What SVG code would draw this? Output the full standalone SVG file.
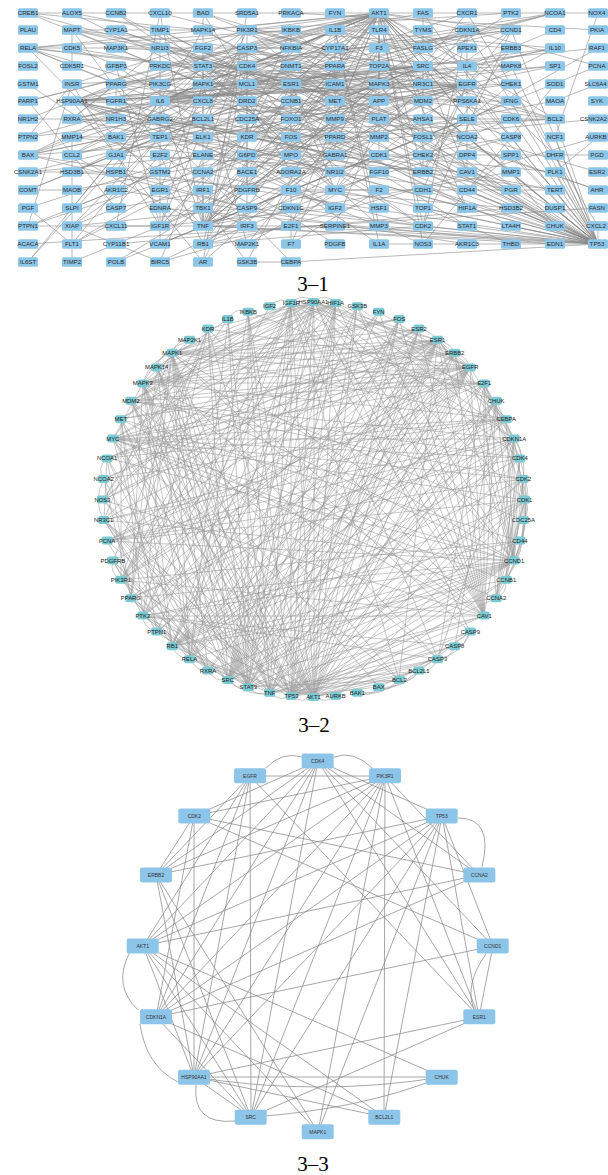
<svg xmlns="http://www.w3.org/2000/svg" width="608" height="1175" viewBox="0 0 608 1175">
<style>
text{font-family:"Liberation Sans",Arial,Helvetica,sans-serif;text-anchor:middle;fill:#2b2b2b}
.t1 text{font-size:6.2px}
.t1 text.r{font-size:5.9px}
.t2 text{font-size:5.9px;fill:#222}
.t3 text{font-size:5px;fill:#333}
.e1 path{fill:none;stroke:#8a8a8a;stroke-width:0.6}
.e2 path{fill:none;stroke:#9a9a9a;stroke-width:0.55}
.e3 path{fill:none;stroke:#8a8a8a;stroke-width:0.75}
.ttl{font-family:"Liberation Serif","Times New Roman",serif;font-size:21px;fill:#000}
</style>
<defs>
<rect id="b1" x="-10" y="-4.75" width="20" height="9.5" rx="1.6" fill="#8cc6e9"/>
<rect id="b2" x="-5.5" y="-4" width="11" height="8" rx="1.8" fill="#7ccad4"/>
<rect id="b3" x="-16" y="-7.5" width="32" height="15" rx="2" fill="#8dc5e9"/>
</defs>
<rect width="608" height="1175" fill="#fff"/>

<g id="edges-3-1" class="e1">
<path d="M379 13L28 13M379 13L203 30M379 13L247 30M379 13L291 30M379 13L467 30M379 13L511 30M379 13L247 48M379 13L291 48M379 13L423 48M379 13L203 66M379 13L247 66M379 13L423 66M379 13L203 84M379 13L291 84M379 13L379 84M379 13L467 84M379 13L72 101M379 13L160 101M379 13L247 84M379 13L423 101M379 13L291 119M379 13L203 119M379 13L555 119M379 13L247 137M379 13L291 137M379 13L379 155M379 13L423 172M379 13L247 208M379 13L467 208M379 13L160 226M379 13L203 226M379 13L291 226M379 13L423 226M379 13L203 244M379 13L423 244M379 13L598 244M379 13L247 262M379 13L72 226M379 13L598 13M379 13L28 155M379 13L28 101M379 13L28 48M379 13L555 226M379 13L335 119M379 13L555 190M379 13L160 66M379 13L160 84M379 13L511 84M379 13L467 101M379 13L423 84"/>
<path d="M598 244L379 244M598 244L555 226M598 244L511 226M598 244L467 226M598 244L423 226M598 244L555 208M598 244L511 208M598 244L467 208M598 244L423 208M598 244L555 190M598 244L511 190M598 244L467 190M598 244L423 190M598 244L555 172M598 244L511 172M598 244L467 172M598 244L423 172M598 244L555 155M598 244L511 155M598 244L423 155M598 244L555 137M598 244L511 137M598 244L555 119M598 244L511 119M598 244L423 101M598 244L511 84M598 244L467 84M598 244L511 66M598 244L467 30M598 244L511 30M598 244L335 190M598 244L291 226M598 244L291 262M598 244L203 226M598 244L247 208M598 244L335 226M598 244L379 137M598 244L598 226M598 244L379 226M598 244L467 137M598 244L160 101M598 244L160 66M598 244L247 66M598 244L467 155M598 244L203 66"/>
<path d="M423 66L467 84M423 66L511 13M423 66L335 13M423 66L203 66M423 66L247 30M423 66L291 84M423 66L203 84M423 66L379 84M423 66L247 137M423 66L335 101M423 66L247 190M423 66L160 226M423 66L423 172M423 66L467 172M423 66L335 84M423 66L467 13M423 66L72 101M423 66L116 101M423 66L72 84M423 66L116 155M423 66L28 226M423 66L203 262M423 66L72 244M423 66L467 119"/>
<path d="M467 84L423 172M467 84L511 48M467 84L203 84M467 84L203 66M467 84L247 30M467 84L511 30M467 84L335 101M467 84L160 226M467 84L423 190M467 84L467 172M467 84L72 101M467 84L116 155M467 84L28 226M467 84L291 137M467 84L335 190M467 84L203 137M467 84L555 66M467 84L467 30M467 84L160 190M467 84L247 137M467 84L116 101M467 84L247 190M467 84L28 137"/>
<path d="M291 84L555 13M291 84L467 137M291 84L511 190M291 84L598 172M291 84L511 30M291 84L335 190M291 84L555 66M291 84L116 84M291 84L116 30M291 84L598 190M291 84L72 119M291 84L160 48M291 84L335 172M291 84L28 13M291 84L203 262M291 84L72 101M291 84L555 119M291 84L467 30M291 84L423 172M291 84L160 226M291 84L291 137M291 84L335 48M291 84L28 190M291 84L72 172"/>
<path d="M203 84L203 137M203 84L247 244M203 84L467 101M203 84L291 137M203 84L335 190M203 84L203 66M203 84L28 13M203 84L72 30M203 84L160 190M203 84L160 101M203 84L247 48M203 84L203 13M203 84L511 66M379 84L203 137M379 84L247 244M379 84L467 101M379 84L291 137M379 84L335 190M379 84L203 66M379 84L203 13M379 84L72 30M379 84L160 101M379 84L247 48M379 84L423 137M379 84L555 66M379 84L203 226M379 84L335 119M379 84L467 208M379 84L379 30"/>
<path d="M160 101L203 66M160 101L335 30M160 101L203 226M160 101L203 101M160 101L555 48M160 101L467 66M160 101L511 101M160 101L72 155M160 101L335 84M160 101L160 244M160 101L28 262M160 101L467 119M160 101L379 30M160 101L379 244M160 101L335 119M160 101L160 30M160 101L28 137M160 101L72 208"/>
<path d="M203 226L335 30M203 226L203 101M203 226L72 155M203 226L335 84M203 226L160 244M203 226L291 48M203 226L291 30M203 226L28 48M203 226L511 137M203 226L247 48M203 226L555 48M203 226L467 119M203 226L335 119M203 226L203 208M203 226L247 226M203 226L203 190M203 226L335 226M203 226L160 13M203 226L116 226M203 226L379 48M203 226L511 101M203 226L511 172M203 226L555 244M203 226L423 48"/>
<path d="M335 30L379 244M335 30L203 101M335 30L72 155M335 30L379 30M335 30L335 119M335 30L555 48M335 30L379 226M335 30L511 101M335 30L291 48M335 30L467 66M335 30L511 172M247 48L511 137M247 48L247 208M247 48L116 208M247 48L28 101M247 48L72 226M247 48L555 119M247 48L28 155M247 48L116 137M247 48L203 119M247 48L160 262M247 48L423 48M247 48L423 13M247 48L379 101M247 48L72 30"/>
<path d="M28 48L291 48M28 48L291 30M28 48L203 66M28 48L160 101M28 48L203 101M28 48L335 84M28 48L116 84M28 101L116 208M28 119L72 119M28 119L116 84M72 119L116 119M72 119L116 84M72 119L335 66M72 119L335 137M72 119L335 172M72 119L160 48M72 119L555 13M72 119L467 137M28 137L72 84M28 155L555 119M28 155L116 137M28 155L203 119M28 155L247 208M28 155L598 244M28 155L247 84M28 172L247 119M28 172L116 172M28 190L72 190M28 190L247 101M28 208L72 244M28 208L247 137M28 226L72 84M28 226L160 226M28 244L598 208M28 262L203 66M28 84L160 172"/>
<path d="M72 13L160 30M72 30L72 48M72 30L247 262M72 30L379 101M72 30L203 30M72 48L72 66M72 48L379 101M72 48L598 244M72 84L160 226M72 84L247 30M72 84L335 208M72 101L423 172M72 101L247 66M72 101L467 208M72 101L423 119M72 101L423 84M72 101L203 262M72 101L511 190M72 101L555 190M72 101L598 48M72 101L116 101M72 101L511 84M72 101L598 244M72 101L291 30M72 101L423 244M72 137L379 137M72 137L72 262M72 137L467 190M72 155L335 84M72 155L555 48M72 172L511 208M72 172L335 48M72 190L555 101M72 208L203 155M72 226L247 208M72 226L116 208M72 226L160 262M72 244L247 137M72 244L247 30M72 262L379 137"/>
<path d="M116 13L379 155M116 13L423 226M116 30L598 190M116 48L511 66M116 48L291 30M116 66L160 226M116 66L335 208M116 84L555 13M116 84L467 137M116 84L291 262M116 84L116 119M116 84L335 66M116 101L203 48M116 101L379 172M116 137L203 119M116 137L247 84M116 137L555 119M116 155L467 172M116 172L247 208M116 190L467 244M116 208L511 137M116 226L160 13M116 244L511 208M116 262L467 48M116 262L598 66"/>
<path d="M160 13L511 101M160 30L335 119M160 30L379 226M160 30L379 137M160 48L335 172M160 84L247 30M160 119L335 155M160 137L555 190M160 155L203 244M160 155L291 226M160 208L555 244M160 226L335 208M160 226L247 30M160 226L203 84M160 244L335 84M160 244L467 119M160 262L598 137M160 262L379 155M203 13L555 119M203 13L247 84M203 30L598 244M203 30L28 13M203 30L116 172M203 66L467 226M203 66L335 190M203 66L511 30M203 66L247 84M203 66L467 208M203 101L467 13M203 119L555 119M203 155L291 155M203 172L423 226M203 172L379 155M203 172L291 101M203 208L247 226M203 244L291 226M203 244L247 66M203 244L423 226M203 244L511 119M203 244L511 30M203 244L423 101"/>
<path d="M247 13L203 262M247 30L511 48M247 30L247 190M247 30L335 101M247 66L511 30M247 66L467 30M247 119L379 155M247 119L423 226M247 119L511 84M247 155L598 155M247 172L379 101M247 190L335 244M247 262L291 262M291 13L598 30M291 30L291 48M291 30L555 226M291 101L379 155M291 119L467 30M291 172L247 101M291 190L379 190M291 190L291 244M291 244L379 48M291 226L335 190M335 190L555 190M335 190L247 66M335 190L467 30M335 66L555 13M335 226L379 119M379 190L291 244M379 208L72 101M423 13L423 48M423 30L555 155M423 155L511 84M423 172L511 48M423 226L467 30M423 226L511 30M467 30L598 66M467 66L555 48M511 155L467 190M555 137L598 13M598 84L555 101M598 48L247 244M598 119L28 172M555 30L467 66M555 84L423 244M555 172L379 155M555 172L598 137M555 208L203 30M511 226L72 13M511 244L379 190M555 226L291 48M598 226L467 13M511 13L247 30M423 13L511 137M423 48L511 137M379 66L598 244M291 66L598 244M291 208L423 226"/>
</g>

<g id="nodes-3-1" class="t1">
<g id="a-CREB1" transform="translate(28 13)"><use href="#b1"/><text y="2.2">CREB1</text></g>
<g id="a-ALOX5" transform="translate(72 13)"><use href="#b1"/><text y="2.2">ALOX5</text></g>
<g id="a-CCNB2" transform="translate(116 13)"><use href="#b1"/><text y="2.2">CCNB2</text></g>
<g id="a-CXCL10" transform="translate(160 13)"><use href="#b1"/><text y="2.2">CXCL10</text></g>
<g id="a-BAD" transform="translate(203 13)"><use href="#b1"/><text y="2.2">BAD</text></g>
<g id="a-SRD5A1" transform="translate(247 13)"><use href="#b1"/><text y="2.2">SRD5A1</text></g>
<g id="a-PRKACA" transform="translate(291 13)"><use href="#b1"/><text y="2.2">PRKACA</text></g>
<g id="a-FYN" transform="translate(335 13)"><use href="#b1"/><text y="2.2">FYN</text></g>
<g id="a-AKT1" transform="translate(379 13)"><use href="#b1"/><text y="2.2">AKT1</text></g>
<g id="a-FAS" transform="translate(423 13)"><use href="#b1"/><text y="2.2">FAS</text></g>
<g id="a-CXCR1" transform="translate(467 13)"><use href="#b1"/><text y="2.2">CXCR1</text></g>
<g id="a-PTK2" transform="translate(511 13)"><use href="#b1"/><text y="2.2">PTK2</text></g>
<g id="a-NCOA1" transform="translate(555 13)"><use href="#b1"/><text y="2.2">NCOA1</text></g>
<g id="a-NOX4" transform="translate(598 13)"><use href="#b1"/><text x="-1" y="2.2">NOX4</text></g>
<g id="a-PLAU" transform="translate(28 30)"><use href="#b1"/><text y="2.2">PLAU</text></g>
<g id="a-MAPT" transform="translate(72 30)"><use href="#b1"/><text y="2.2">MAPT</text></g>
<g id="a-CYP1A1" transform="translate(116 30)"><use href="#b1"/><text y="2.2">CYP1A1</text></g>
<g id="a-TIMP1" transform="translate(160 30)"><use href="#b1"/><text y="2.2">TIMP1</text></g>
<g id="a-MAPK14" transform="translate(203 30)"><use href="#b1"/><text y="2.2">MAPK14</text></g>
<g id="a-PIK3R1" transform="translate(247 30)"><use href="#b1"/><text y="2.2">PIK3R1</text></g>
<g id="a-IKBKB" transform="translate(291 30)"><use href="#b1"/><text y="2.2">IKBKB</text></g>
<g id="a-IL1B" transform="translate(335 30)"><use href="#b1"/><text y="2.2">IL1B</text></g>
<g id="a-TLR4" transform="translate(379 30)"><use href="#b1"/><text y="2.2">TLR4</text></g>
<g id="a-TYMS" transform="translate(423 30)"><use href="#b1"/><text y="2.2">TYMS</text></g>
<g id="a-CDKN1A" transform="translate(467 30)"><use href="#b1"/><text y="2.2">CDKN1A</text></g>
<g id="a-CCND1" transform="translate(511 30)"><use href="#b1"/><text y="2.2">CCND1</text></g>
<g id="a-CD4" transform="translate(555 30)"><use href="#b1"/><text y="2.2">CD4</text></g>
<g id="a-PKIA" transform="translate(598 30)"><use href="#b1"/><text x="-1" y="2.2">PKIA</text></g>
<g id="a-RELA" transform="translate(28 48)"><use href="#b1"/><text y="2.2">RELA</text></g>
<g id="a-CDK5" transform="translate(72 48)"><use href="#b1"/><text y="2.2">CDK5</text></g>
<g id="a-MAP3K1" transform="translate(116 48)"><use href="#b1"/><text y="2.2">MAP3K1</text></g>
<g id="a-NR1I3" transform="translate(160 48)"><use href="#b1"/><text y="2.2">NR1I3</text></g>
<g id="a-FGF2" transform="translate(203 48)"><use href="#b1"/><text y="2.2">FGF2</text></g>
<g id="a-CASP3" transform="translate(247 48)"><use href="#b1"/><text y="2.2">CASP3</text></g>
<g id="a-NFKBIA" transform="translate(291 48)"><use href="#b1"/><text y="2.2">NFKBIA</text></g>
<g id="a-CYP17A1" transform="translate(335 48)"><use href="#b1"/><text y="2.2">CYP17A1</text></g>
<g id="a-F3" transform="translate(379 48)"><use href="#b1"/><text y="2.2">F3</text></g>
<g id="a-FASLG" transform="translate(423 48)"><use href="#b1"/><text y="2.2">FASLG</text></g>
<g id="a-APEX1" transform="translate(467 48)"><use href="#b1"/><text y="2.2">APEX1</text></g>
<g id="a-ERBB3" transform="translate(511 48)"><use href="#b1"/><text y="2.2">ERBB3</text></g>
<g id="a-IL10" transform="translate(555 48)"><use href="#b1"/><text y="2.2">IL10</text></g>
<g id="a-RAF1" transform="translate(598 48)"><use href="#b1"/><text x="-1" y="2.2">RAF1</text></g>
<g id="a-FOSL2" transform="translate(28 66)"><use href="#b1"/><text y="2.2">FOSL2</text></g>
<g id="a-CDK5R1" transform="translate(72 66)"><use href="#b1"/><text y="2.2">CDK5R1</text></g>
<g id="a-IGFBP3" transform="translate(116 66)"><use href="#b1"/><text y="2.2">IGFBP3</text></g>
<g id="a-PRKDC" transform="translate(160 66)"><use href="#b1"/><text y="2.2">PRKDC</text></g>
<g id="a-STAT3" transform="translate(203 66)"><use href="#b1"/><text y="2.2">STAT3</text></g>
<g id="a-CDK4" transform="translate(247 66)"><use href="#b1"/><text y="2.2">CDK4</text></g>
<g id="a-DNMT1" transform="translate(291 66)"><use href="#b1"/><text y="2.2">DNMT1</text></g>
<g id="a-PPARA" transform="translate(335 66)"><use href="#b1"/><text y="2.2">PPARA</text></g>
<g id="a-TOP2A" transform="translate(379 66)"><use href="#b1"/><text y="2.2">TOP2A</text></g>
<g id="a-SRC" transform="translate(423 66)"><use href="#b1"/><text y="2.2">SRC</text></g>
<g id="a-IL4" transform="translate(467 66)"><use href="#b1"/><text y="2.2">IL4</text></g>
<g id="a-MAPK8" transform="translate(511 66)"><use href="#b1"/><text y="2.2">MAPK8</text></g>
<g id="a-SP1" transform="translate(555 66)"><use href="#b1"/><text y="2.2">SP1</text></g>
<g id="a-PCNA" transform="translate(598 66)"><use href="#b1"/><text x="-1" y="2.2">PCNA</text></g>
<g id="a-GSTM1" transform="translate(28 84)"><use href="#b1"/><text y="2.2">GSTM1</text></g>
<g id="a-INSR" transform="translate(72 84)"><use href="#b1"/><text y="2.2">INSR</text></g>
<g id="a-PPARG" transform="translate(116 84)"><use href="#b1"/><text y="2.2">PPARG</text></g>
<g id="a-PIK3CG" transform="translate(160 84)"><use href="#b1"/><text y="2.2">PIK3CG</text></g>
<g id="a-MAPK1" transform="translate(203 84)"><use href="#b1"/><text y="2.2">MAPK1</text></g>
<g id="a-MCL1" transform="translate(247 84)"><use href="#b1"/><text y="2.2">MCL1</text></g>
<g id="a-ESR1" transform="translate(291 84)"><use href="#b1"/><text y="2.2">ESR1</text></g>
<g id="a-ICAM1" transform="translate(335 84)"><use href="#b1"/><text y="2.2">ICAM1</text></g>
<g id="a-MAPK3" transform="translate(379 84)"><use href="#b1"/><text y="2.2">MAPK3</text></g>
<g id="a-NR3C1" transform="translate(423 84)"><use href="#b1"/><text y="2.2">NR3C1</text></g>
<g id="a-EGFR" transform="translate(467 84)"><use href="#b1"/><text y="2.2">EGFR</text></g>
<g id="a-CHEK1" transform="translate(511 84)"><use href="#b1"/><text y="2.2">CHEK1</text></g>
<g id="a-SOD1" transform="translate(555 84)"><use href="#b1"/><text y="2.2">SOD1</text></g>
<g id="a-SLC6A4" transform="translate(598 84)"><use href="#b1"/><text class="r" x="-2.5" y="2.1">SLC6A4</text></g>
<g id="a-PARP1" transform="translate(28 101)"><use href="#b1"/><text y="2.2">PARP1</text></g>
<g id="a-HSP90AA1" transform="translate(72 101)"><use href="#b1"/><text y="2.2">HSP90AA1</text></g>
<g id="a-FGFR1" transform="translate(116 101)"><use href="#b1"/><text y="2.2">FGFR1</text></g>
<g id="a-IL6" transform="translate(160 101)"><use href="#b1"/><text y="2.2">IL6</text></g>
<g id="a-CXCL8" transform="translate(203 101)"><use href="#b1"/><text y="2.2">CXCL8</text></g>
<g id="a-DRD2" transform="translate(247 101)"><use href="#b1"/><text y="2.2">DRD2</text></g>
<g id="a-CCNB1" transform="translate(291 101)"><use href="#b1"/><text y="2.2">CCNB1</text></g>
<g id="a-MET" transform="translate(335 101)"><use href="#b1"/><text y="2.2">MET</text></g>
<g id="a-APP" transform="translate(379 101)"><use href="#b1"/><text y="2.2">APP</text></g>
<g id="a-MDM2" transform="translate(423 101)"><use href="#b1"/><text y="2.2">MDM2</text></g>
<g id="a-RPS6KA1" transform="translate(467 101)"><use href="#b1"/><text y="2.2">RPS6KA1</text></g>
<g id="a-IFNG" transform="translate(511 101)"><use href="#b1"/><text y="2.2">IFNG</text></g>
<g id="a-MAOA" transform="translate(555 101)"><use href="#b1"/><text y="2.2">MAOA</text></g>
<g id="a-SYK" transform="translate(598 101)"><use href="#b1"/><text x="-1" y="2.2">SYK</text></g>
<g id="a-NR1H2" transform="translate(28 119)"><use href="#b1"/><text y="2.2">NR1H2</text></g>
<g id="a-RXRA" transform="translate(72 119)"><use href="#b1"/><text y="2.2">RXRA</text></g>
<g id="a-NR1H3" transform="translate(116 119)"><use href="#b1"/><text y="2.2">NR1H3</text></g>
<g id="a-GABRG2" transform="translate(160 119)"><use href="#b1"/><text y="2.2">GABRG2</text></g>
<g id="a-BCL2L1" transform="translate(203 119)"><use href="#b1"/><text y="2.2">BCL2L1</text></g>
<g id="a-CDC25A" transform="translate(247 119)"><use href="#b1"/><text y="2.2">CDC25A</text></g>
<g id="a-FOXO1" transform="translate(291 119)"><use href="#b1"/><text y="2.2">FOXO1</text></g>
<g id="a-MMP9" transform="translate(335 119)"><use href="#b1"/><text y="2.2">MMP9</text></g>
<g id="a-PLAT" transform="translate(379 119)"><use href="#b1"/><text y="2.2">PLAT</text></g>
<g id="a-AHSA1" transform="translate(423 119)"><use href="#b1"/><text y="2.2">AHSA1</text></g>
<g id="a-SELE" transform="translate(467 119)"><use href="#b1"/><text y="2.2">SELE</text></g>
<g id="a-CDK6" transform="translate(511 119)"><use href="#b1"/><text y="2.2">CDK6</text></g>
<g id="a-BCL2" transform="translate(555 119)"><use href="#b1"/><text y="2.2">BCL2</text></g>
<g id="a-CSNK2A2" transform="translate(598 119)"><use href="#b1"/><text class="r" x="-4.5" y="2.1">CSNK2A2</text></g>
<g id="a-PTPN2" transform="translate(28 137)"><use href="#b1"/><text y="2.2">PTPN2</text></g>
<g id="a-MMP14" transform="translate(72 137)"><use href="#b1"/><text y="2.2">MMP14</text></g>
<g id="a-BAK1" transform="translate(116 137)"><use href="#b1"/><text y="2.2">BAK1</text></g>
<g id="a-TEP1" transform="translate(160 137)"><use href="#b1"/><text y="2.2">TEP1</text></g>
<g id="a-ELK1" transform="translate(203 137)"><use href="#b1"/><text y="2.2">ELK1</text></g>
<g id="a-KDR" transform="translate(247 137)"><use href="#b1"/><text y="2.2">KDR</text></g>
<g id="a-FOS" transform="translate(291 137)"><use href="#b1"/><text y="2.2">FOS</text></g>
<g id="a-PPARD" transform="translate(335 137)"><use href="#b1"/><text y="2.2">PPARD</text></g>
<g id="a-MMP2" transform="translate(379 137)"><use href="#b1"/><text y="2.2">MMP2</text></g>
<g id="a-FOSL1" transform="translate(423 137)"><use href="#b1"/><text y="2.2">FOSL1</text></g>
<g id="a-NCOA2" transform="translate(467 137)"><use href="#b1"/><text y="2.2">NCOA2</text></g>
<g id="a-CASP8" transform="translate(511 137)"><use href="#b1"/><text y="2.2">CASP8</text></g>
<g id="a-NCF1" transform="translate(555 137)"><use href="#b1"/><text y="2.2">NCF1</text></g>
<g id="a-AURKB" transform="translate(598 137)"><use href="#b1"/><text x="-2" y="2.2">AURKB</text></g>
<g id="a-BAX" transform="translate(28 155)"><use href="#b1"/><text y="2.2">BAX</text></g>
<g id="a-CCL2" transform="translate(72 155)"><use href="#b1"/><text y="2.2">CCL2</text></g>
<g id="a-GJA1" transform="translate(116 155)"><use href="#b1"/><text y="2.2">GJA1</text></g>
<g id="a-E2F2" transform="translate(160 155)"><use href="#b1"/><text y="2.2">E2F2</text></g>
<g id="a-ELANE" transform="translate(203 155)"><use href="#b1"/><text y="2.2">ELANE</text></g>
<g id="a-G6PD" transform="translate(247 155)"><use href="#b1"/><text y="2.2">G6PD</text></g>
<g id="a-MPO" transform="translate(291 155)"><use href="#b1"/><text y="2.2">MPO</text></g>
<g id="a-GABRA1" transform="translate(335 155)"><use href="#b1"/><text y="2.2">GABRA1</text></g>
<g id="a-CDK1" transform="translate(379 155)"><use href="#b1"/><text y="2.2">CDK1</text></g>
<g id="a-CHEK2" transform="translate(423 155)"><use href="#b1"/><text y="2.2">CHEK2</text></g>
<g id="a-DPP4" transform="translate(467 155)"><use href="#b1"/><text y="2.2">DPP4</text></g>
<g id="a-SPP1" transform="translate(511 155)"><use href="#b1"/><text y="2.2">SPP1</text></g>
<g id="a-DHFR" transform="translate(555 155)"><use href="#b1"/><text y="2.2">DHFR</text></g>
<g id="a-PGD" transform="translate(598 155)"><use href="#b1"/><text x="-1" y="2.2">PGD</text></g>
<g id="a-CSNK2A1" transform="translate(28 172)"><use href="#b1"/><text y="2.2">CSNK2A1</text></g>
<g id="a-HSD3B1" transform="translate(72 172)"><use href="#b1"/><text y="2.2">HSD3B1</text></g>
<g id="a-HSPB1" transform="translate(116 172)"><use href="#b1"/><text y="2.2">HSPB1</text></g>
<g id="a-GSTM2" transform="translate(160 172)"><use href="#b1"/><text y="2.2">GSTM2</text></g>
<g id="a-CCNA2" transform="translate(203 172)"><use href="#b1"/><text y="2.2">CCNA2</text></g>
<g id="a-BACE1" transform="translate(247 172)"><use href="#b1"/><text y="2.2">BACE1</text></g>
<g id="a-ADORA2A" transform="translate(291 172)"><use href="#b1"/><text y="2.2">ADORA2A</text></g>
<g id="a-NR1I2" transform="translate(335 172)"><use href="#b1"/><text y="2.2">NR1I2</text></g>
<g id="a-FGF10" transform="translate(379 172)"><use href="#b1"/><text y="2.2">FGF10</text></g>
<g id="a-ERBB2" transform="translate(423 172)"><use href="#b1"/><text y="2.2">ERBB2</text></g>
<g id="a-CAV1" transform="translate(467 172)"><use href="#b1"/><text y="2.2">CAV1</text></g>
<g id="a-MMP1" transform="translate(511 172)"><use href="#b1"/><text y="2.2">MMP1</text></g>
<g id="a-PLK1" transform="translate(555 172)"><use href="#b1"/><text y="2.2">PLK1</text></g>
<g id="a-ESR2" transform="translate(598 172)"><use href="#b1"/><text x="-1" y="2.2">ESR2</text></g>
<g id="a-COMT" transform="translate(28 190)"><use href="#b1"/><text y="2.2">COMT</text></g>
<g id="a-MAOB" transform="translate(72 190)"><use href="#b1"/><text y="2.2">MAOB</text></g>
<g id="a-AKR1C2" transform="translate(116 190)"><use href="#b1"/><text y="2.2">AKR1C2</text></g>
<g id="a-EGR1" transform="translate(160 190)"><use href="#b1"/><text y="2.2">EGR1</text></g>
<g id="a-IRF1" transform="translate(203 190)"><use href="#b1"/><text y="2.2">IRF1</text></g>
<g id="a-PDGFRB" transform="translate(247 190)"><use href="#b1"/><text y="2.2">PDGFRB</text></g>
<g id="a-F10" transform="translate(291 190)"><use href="#b1"/><text y="2.2">F10</text></g>
<g id="a-MYC" transform="translate(335 190)"><use href="#b1"/><text y="2.2">MYC</text></g>
<g id="a-F2" transform="translate(379 190)"><use href="#b1"/><text y="2.2">F2</text></g>
<g id="a-CDH1" transform="translate(423 190)"><use href="#b1"/><text y="2.2">CDH1</text></g>
<g id="a-CD44" transform="translate(467 190)"><use href="#b1"/><text y="2.2">CD44</text></g>
<g id="a-PGR" transform="translate(511 190)"><use href="#b1"/><text y="2.2">PGR</text></g>
<g id="a-TERT" transform="translate(555 190)"><use href="#b1"/><text y="2.2">TERT</text></g>
<g id="a-AHR" transform="translate(598 190)"><use href="#b1"/><text x="-1" y="2.2">AHR</text></g>
<g id="a-PGF" transform="translate(28 208)"><use href="#b1"/><text y="2.2">PGF</text></g>
<g id="a-SLPI" transform="translate(72 208)"><use href="#b1"/><text y="2.2">SLPI</text></g>
<g id="a-CASP7" transform="translate(116 208)"><use href="#b1"/><text y="2.2">CASP7</text></g>
<g id="a-EDNRA" transform="translate(160 208)"><use href="#b1"/><text y="2.2">EDNRA</text></g>
<g id="a-TBK1" transform="translate(203 208)"><use href="#b1"/><text y="2.2">TBK1</text></g>
<g id="a-CASP9" transform="translate(247 208)"><use href="#b1"/><text y="2.2">CASP9</text></g>
<g id="a-CDKN1C" transform="translate(291 208)"><use href="#b1"/><text y="2.2">CDKN1C</text></g>
<g id="a-IGF2" transform="translate(335 208)"><use href="#b1"/><text y="2.2">IGF2</text></g>
<g id="a-HSF1" transform="translate(379 208)"><use href="#b1"/><text y="2.2">HSF1</text></g>
<g id="a-TOP1" transform="translate(423 208)"><use href="#b1"/><text y="2.2">TOP1</text></g>
<g id="a-HIF1A" transform="translate(467 208)"><use href="#b1"/><text y="2.2">HIF1A</text></g>
<g id="a-HSD3B2" transform="translate(511 208)"><use href="#b1"/><text y="2.2">HSD3B2</text></g>
<g id="a-DUSP1" transform="translate(555 208)"><use href="#b1"/><text y="2.2">DUSP1</text></g>
<g id="a-FASN" transform="translate(598 208)"><use href="#b1"/><text x="-1" y="2.2">FASN</text></g>
<g id="a-PTPN1" transform="translate(28 226)"><use href="#b1"/><text y="2.2">PTPN1</text></g>
<g id="a-XIAP" transform="translate(72 226)"><use href="#b1"/><text y="2.2">XIAP</text></g>
<g id="a-CXCL11" transform="translate(116 226)"><use href="#b1"/><text y="2.2">CXCL11</text></g>
<g id="a-IGF1R" transform="translate(160 226)"><use href="#b1"/><text y="2.2">IGF1R</text></g>
<g id="a-TNF" transform="translate(203 226)"><use href="#b1"/><text y="2.2">TNF</text></g>
<g id="a-IRF3" transform="translate(247 226)"><use href="#b1"/><text y="2.2">IRF3</text></g>
<g id="a-E2F1" transform="translate(291 226)"><use href="#b1"/><text y="2.2">E2F1</text></g>
<g id="a-SERPINE1" transform="translate(335 226)"><use href="#b1"/><text y="2.2">SERPINE1</text></g>
<g id="a-MMP3" transform="translate(379 226)"><use href="#b1"/><text y="2.2">MMP3</text></g>
<g id="a-CDK2" transform="translate(423 226)"><use href="#b1"/><text y="2.2">CDK2</text></g>
<g id="a-STAT1" transform="translate(467 226)"><use href="#b1"/><text y="2.2">STAT1</text></g>
<g id="a-LTA4H" transform="translate(511 226)"><use href="#b1"/><text y="2.2">LTA4H</text></g>
<g id="a-CHUK" transform="translate(555 226)"><use href="#b1"/><text y="2.2">CHUK</text></g>
<g id="a-CXCL2" transform="translate(598 226)"><use href="#b1"/><text x="-2" y="2.2">CXCL2</text></g>
<g id="a-ACACA" transform="translate(28 244)"><use href="#b1"/><text y="2.2">ACACA</text></g>
<g id="a-FLT1" transform="translate(72 244)"><use href="#b1"/><text y="2.2">FLT1</text></g>
<g id="a-CYP11B1" transform="translate(116 244)"><use href="#b1"/><text y="2.2">CYP11B1</text></g>
<g id="a-VCAM1" transform="translate(160 244)"><use href="#b1"/><text y="2.2">VCAM1</text></g>
<g id="a-RB1" transform="translate(203 244)"><use href="#b1"/><text y="2.2">RB1</text></g>
<g id="a-MAP2K1" transform="translate(247 244)"><use href="#b1"/><text y="2.2">MAP2K1</text></g>
<g id="a-F7" transform="translate(291 244)"><use href="#b1"/><text y="2.2">F7</text></g>
<g id="a-PDGFB" transform="translate(335 244)"><use href="#b1"/><text y="2.2">PDGFB</text></g>
<g id="a-IL1A" transform="translate(379 244)"><use href="#b1"/><text y="2.2">IL1A</text></g>
<g id="a-NOS3" transform="translate(423 244)"><use href="#b1"/><text y="2.2">NOS3</text></g>
<g id="a-AKR1C3" transform="translate(467 244)"><use href="#b1"/><text y="2.2">AKR1C3</text></g>
<g id="a-THBD" transform="translate(511 244)"><use href="#b1"/><text y="2.2">THBD</text></g>
<g id="a-EDN1" transform="translate(555 244)"><use href="#b1"/><text y="2.2">EDN1</text></g>
<g id="a-TP53" transform="translate(598 244)"><use href="#b1"/><text x="-1" y="2.2">TP53</text></g>
<g id="a-IL6ST" transform="translate(28 262)"><use href="#b1"/><text y="2.2">IL6ST</text></g>
<g id="a-TIMP2" transform="translate(72 262)"><use href="#b1"/><text y="2.2">TIMP2</text></g>
<g id="a-POLB" transform="translate(116 262)"><use href="#b1"/><text y="2.2">POLB</text></g>
<g id="a-BIRC5" transform="translate(160 262)"><use href="#b1"/><text y="2.2">BIRC5</text></g>
<g id="a-AR" transform="translate(203 262)"><use href="#b1"/><text y="2.2">AR</text></g>
<g id="a-GSK3B" transform="translate(247 262)"><use href="#b1"/><text y="2.2">GSK3B</text></g>
<g id="a-CEBPA" transform="translate(291 262)"><use href="#b1"/><text y="2.2">CEBPA</text></g>
</g>
<text class="ttl" x="313" y="291">3–1</text>

<g id="edges-3-2" class="e2">
<path d="M314 697L314 302M314 697L336 303M314 697L357 306M314 697L438 340M314 697L419 329M314 697L455 353M314 697L470 367M314 697L496 401M314 697L514 439M314 697L514 561M314 697L470 632M314 697L438 659M314 697L131 401M314 697L172 353M314 697L143 383M314 697L157 367M314 697L248 312M314 697L291 303M314 697L208 329M314 697L121 580M314 697L143 616M314 697L103 500M314 697L104 520M314 697L113 439M314 697L190 659M314 697L419 671M314 697L399 680M314 697L523 479M314 697L121 419M314 697L399 319"/>
<path d="M291 696L314 302M291 696L336 303M291 696L357 306M291 696L438 340M291 696L484 383M291 696L514 439M291 696L523 479M291 696L525 500M291 696L514 561M291 696L506 580M291 696L496 598M291 696L455 646M291 696L438 659M291 696L419 671M291 696L379 687M291 696L131 401M291 696L113 439M291 696L107 541M291 696L172 646M291 696L157 367M291 696L291 303M291 696L520 458M291 696L496 401M291 696L470 367M291 696L419 329M291 696L104 520M291 696L484 616M291 696L172 353M291 696L143 383M291 696L399 319M291 696L248 312"/>
<path d="M228 680L314 302M228 680L379 312M228 680L438 340M228 680L455 353M228 680L470 367M228 680L484 616M228 680L143 616M228 680L113 561M228 680L208 329M228 680L121 419M228 680L291 303M228 680L172 353M228 680L143 383M228 680L121 580M228 680L525 500M228 680L514 561M228 680L514 439M228 680L419 329M228 680L357 306M228 680L336 303M228 680L496 401M228 680L484 383M228 680L520 541M228 680L399 319M228 680L157 632"/>
<path d="M470 367L121 419M470 367L248 687M470 367L121 580M470 367L143 616M470 367L172 353M470 367L143 383M470 367L484 616M470 367L157 632M470 367L514 561M470 367L113 439M470 367L314 302M470 367L113 561M470 367L131 401M470 367L172 646M470 367L514 439M470 367L107 458M470 367L291 303M470 367L208 329M470 367L208 671M470 367L107 541M470 367L270 693M470 367L190 659"/>
<path d="M438 340L107 458M438 340L104 479M438 340L514 561M438 340L113 439M438 340L131 598M438 340L208 671M438 340L484 616M438 340L314 302M438 340L514 439M438 340L172 646M438 340L399 680M438 340L104 520M438 340L291 303M438 340L121 580M438 340L248 687M438 340L506 419M438 340L190 659M438 340L520 458M438 340L172 353M438 340L143 383M438 340L107 541M438 340L270 693M438 340L470 367M438 340L103 500"/>
<path d="M314 302L455 353M314 302L520 458M314 302L496 401M314 302L104 520M314 302L121 580M314 302L248 687M314 302L121 419M314 302L172 646M314 302L208 329M314 302L103 500M314 302L484 616M314 302L470 632M314 302L525 500M314 302L143 616M314 302L190 659M314 302L172 353M314 302L514 561M314 302L157 367"/>
<path d="M291 303L121 580M291 303L157 632M291 303L172 353M291 303L143 383M291 303L248 687M291 303L484 616M291 303L143 616M291 303L514 561M291 303L131 401M291 303L172 646M291 303L270 693M291 303L438 659M291 303L399 680M291 303L121 419M291 303L514 439"/>
<path d="M172 646L484 383M172 646L520 458M172 646L523 479M172 646L525 500M172 646L514 439M172 646L514 561M172 646L496 598M172 646L131 401M172 646L113 439M172 646L506 419M172 646L336 303M172 646L107 541M172 646L496 401M172 646L506 580M172 646L357 306"/>
<path d="M484 616L455 353M484 616L419 329M484 616L103 500M484 616L172 353M484 616L143 383M484 616L336 303M484 616L357 306M484 616L379 312M484 616L143 616M484 616L484 383M484 616L496 401M484 616L399 319M484 616L514 439M484 616L121 419M484 616L248 687M484 616L121 580"/>
<path d="M248 687L336 303M248 687L228 319M248 687L248 312M248 687L113 439M248 687L514 561M248 687L419 671M248 687L172 353M248 687L143 383M248 687L143 616M248 687L514 439M248 687L506 419M248 687L121 419M248 687L107 458M248 687L208 329M248 687L399 319M248 687L399 680M248 687L131 401"/>
<path d="M270 693L228 319M270 693L248 312M270 693L190 659M270 693L496 401M270 693L455 646M270 693L438 659M270 693L157 367M270 693L172 353M270 693L143 383M270 693L103 500M270 693L514 561M270 693L336 303M270 693L506 419M270 693L131 598M270 693L104 520M270 693L131 401M270 693L419 329M270 693L470 632M270 693L399 680"/>
<path d="M514 439L525 500M514 439L514 561M514 439L496 598M514 439L506 580M514 439L107 541M514 439L131 401M514 439L113 439M514 439L484 383M514 439L336 303M514 439L496 401M514 439L438 659M514 439L131 598M514 439L104 520M520 458L514 561M520 458L113 439M520 458L107 541M520 458L131 401M520 458L484 383M520 458L496 598M520 458L506 580"/>
<path d="M514 561L523 479M514 561L484 383M514 561L113 439M514 561L131 598M514 561L107 458M514 561L506 419M514 561L496 401M514 561L190 659M514 561L357 306M514 561L172 353M514 561L143 383M514 561L107 541M514 561L208 671M514 561L104 520"/>
<path d="M172 353L419 329M172 353L455 353M172 353L399 319M172 353L131 598M172 353L208 671M172 353L113 439M172 353L190 659M172 353L143 616M172 353L336 303M172 353L470 632M172 353L506 419M172 353L484 383M172 353L104 520M143 383L190 340M143 383L455 353M143 383L399 319M143 383L131 598M143 383L113 439M143 383L336 303M143 383L190 659M143 383L506 419M143 383L172 646M143 383L419 329M143 383L484 383M143 383L399 680"/>
<path d="M157 367L248 687M157 367L228 319M157 367L399 319M157 367L523 520M157 367L438 659M157 367L438 340M157 367L131 598M157 367L190 659M121 580L455 353M121 580L208 329M121 580L121 419M121 580L379 312M121 580L270 306M121 580L336 303M121 580L520 541M143 616L379 312M143 616L121 419M143 616L208 329M143 616L455 353M143 616L520 541M143 616L455 646M143 616L438 659M143 616L419 329M143 616L514 561"/>
<path d="M484 383L131 401M484 383L496 598M484 383L523 479M484 383L113 439M484 383L107 541M484 383L525 500M484 383L438 659M131 401L314 302M131 401L438 340M131 401L336 303M131 401L523 479M131 401L438 659M131 401L379 687M113 439L523 479M113 439L496 598M113 439L357 306M113 439L336 303M113 439L506 419M113 439L525 500M113 439L399 680M113 439L506 580"/>
<path d="M496 401L248 312M496 401L190 659M496 401L455 646M248 312L190 659M228 319L190 659M228 319L103 500M208 329L103 500M208 329L484 616M121 419L455 353M121 419L520 541M107 458L419 329M107 458L131 598M107 458L208 671M107 458L104 520M107 458L506 419M104 479L419 329M104 479L131 598M104 479L208 671M104 479L506 419M131 598L208 671M131 598L506 419M131 598L190 659M208 671L104 520M103 500L336 303M103 500L419 329M104 520L190 659M104 520L506 419M104 520L248 687M107 541L523 479M107 541L525 500M113 561L157 632M113 561L208 329M113 561L248 687M113 561L143 616M157 632L248 687M157 632L455 353M157 632L121 419M336 303L470 367M357 306L506 419M379 312L470 367M399 319L190 659M455 353L248 687M455 353L514 561M523 479L496 598M523 479L523 520M525 500L506 580M525 500L496 598M525 500L336 696M506 580L336 696M470 632L399 680M470 632L419 671M438 659L379 687"/>
<path d="M314 302Q325 292 336 303M314 302Q302 292 291 303M291 303Q280 296 270 306M248 312Q236 306 228 319M190 340Q179 337 172 353M172 353Q160 354 157 367M172 353Q150 360 143 383M190 340Q160 350 143 383M107 458Q96 468 104 479M104 479Q92 500 104 520M113 561Q109 573 121 580M143 616Q143 628 157 632M172 646Q176 658 190 659M190 659Q196 671 208 671M208 671Q215 682 228 680M228 680Q236 690 248 687M248 687Q257 697 270 693M270 693Q280 702 291 696M291 696Q302 704 314 697M228 680Q246 697 270 693M314 697Q325 704 336 696M357 693Q369 698 379 687M379 687Q391 692 399 680M399 680Q411 684 419 671M419 671Q430 674 438 659M438 659Q449 661 455 646M455 646Q466 647 470 632M379 687Q402 690 419 671M357 693Q380 698 399 680M357 693Q390 695 419 671M470 632Q460 655 438 659M496 598Q507 594 506 580M506 580Q530 540 525 500M525 500Q531 510 523 520M523 520Q526 552 506 580M523 479Q531 489 525 500M523 479Q527 458 514 439M520 458Q522 447 514 439M520 458Q535 510 514 561M514 561Q533 520 523 479M496 598Q525 555 525 500M496 598Q523 540 523 479M470 367Q466 356 455 353M455 353Q450 343 438 340M438 340Q431 331 419 329"/>
</g>

<g id="nodes-3-2" class="t2">
<g id="b-HSP90AA1" transform="translate(313.5 302)"><use href="#b2"/><text y="2">HSP90AA1</text></g>
<g id="b-HIF1A" transform="translate(335.6 303.1)"><use href="#b2"/><text y="2">HIF1A</text></g>
<g id="b-GSK3B" transform="translate(357.4 306.3)"><use href="#b2"/><text y="2">GSK3B</text></g>
<g id="b-FYN" transform="translate(378.7 311.7)"><use href="#b2"/><text y="2">FYN</text></g>
<g id="b-FOS" transform="translate(399.3 319.1)"><use href="#b2"/><text y="2">FOS</text></g>
<g id="b-ESR2" transform="translate(419 328.5)"><use href="#b2"/><text y="2">ESR2</text></g>
<g id="b-ESR1" transform="translate(437.5 339.7)"><use href="#b2"/><text y="2">ESR1</text></g>
<g id="b-ERBB2" transform="translate(454.7 352.7)"><use href="#b2"/><text y="2">ERBB2</text></g>
<g id="b-EGFR" transform="translate(470.3 367.4)"><use href="#b2"/><text y="2">EGFR</text></g>
<g id="b-E2F1" transform="translate(484.2 383.4)"><use href="#b2"/><text y="2">E2F1</text></g>
<g id="b-CHUK" transform="translate(496.2 400.8)"><use href="#b2"/><text y="2">CHUK</text></g>
<g id="b-CEBPA" transform="translate(506.2 419.2)"><use href="#b2"/><text y="2">CEBPA</text></g>
<g id="b-CDKN1A" transform="translate(514.2 438.5)"><use href="#b2"/><text y="2">CDKN1A</text></g>
<g id="b-CDK4" transform="translate(519.9 458.4)"><use href="#b2"/><text y="2">CDK4</text></g>
<g id="b-CDK2" transform="translate(523.3 478.9)"><use href="#b2"/><text y="2">CDK2</text></g>
<g id="b-CDK1" transform="translate(524.5 499.5)"><use href="#b2"/><text y="2">CDK1</text></g>
<g id="b-CDC25A" transform="translate(523.3 520.1)"><use href="#b2"/><text y="2">CDC25A</text></g>
<g id="b-CD44" transform="translate(519.9 540.6)"><use href="#b2"/><text y="2">CD44</text></g>
<g id="b-CCND1" transform="translate(514.2 560.5)"><use href="#b2"/><text y="2">CCND1</text></g>
<g id="b-CCNB1" transform="translate(506.2 579.8)"><use href="#b2"/><text y="2">CCNB1</text></g>
<g id="b-CCNA2" transform="translate(496.2 598.3)"><use href="#b2"/><text y="2">CCNA2</text></g>
<g id="b-CAV1" transform="translate(484.2 615.6)"><use href="#b2"/><text y="2">CAV1</text></g>
<g id="b-CASP9" transform="translate(470.3 631.6)"><use href="#b2"/><text y="2">CASP9</text></g>
<g id="b-CASP8" transform="translate(454.7 646.3)"><use href="#b2"/><text y="2">CASP8</text></g>
<g id="b-CASP3" transform="translate(437.5 659.3)"><use href="#b2"/><text y="2">CASP3</text></g>
<g id="b-BCL2L1" transform="translate(419 670.5)"><use href="#b2"/><text y="2">BCL2L1</text></g>
<g id="b-BCL2" transform="translate(399.3 679.9)"><use href="#b2"/><text y="2">BCL2</text></g>
<g id="b-BAX" transform="translate(378.7 687.3)"><use href="#b2"/><text y="2">BAX</text></g>
<g id="b-BAK1" transform="translate(357.4 692.7)"><use href="#b2"/><text y="2">BAK1</text></g>
<g id="b-AURKB" transform="translate(335.6 695.9)"><use href="#b2"/><text y="2">AURKB</text></g>
<g id="b-AKT1" transform="translate(313.5 697)"><use href="#b2"/><text y="2">AKT1</text></g>
<g id="b-TP53" transform="translate(291.4 695.9)"><use href="#b2"/><text y="2">TP53</text></g>
<g id="b-TNF" transform="translate(269.6 692.7)"><use href="#b2"/><text y="2">TNF</text></g>
<g id="b-STAT3" transform="translate(248.3 687.3)"><use href="#b2"/><text y="2">STAT3</text></g>
<g id="b-SRC" transform="translate(227.7 679.9)"><use href="#b2"/><text y="2">SRC</text></g>
<g id="b-RXRA" transform="translate(208 670.5)"><use href="#b2"/><text y="2">RXRA</text></g>
<g id="b-RELA" transform="translate(189.5 659.3)"><use href="#b2"/><text y="2">RELA</text></g>
<g id="b-RB1" transform="translate(172.3 646.3)"><use href="#b2"/><text y="2">RB1</text></g>
<g id="b-PTPN1" transform="translate(156.7 631.6)"><use href="#b2"/><text y="2">PTPN1</text></g>
<g id="b-PTK2" transform="translate(142.8 615.6)"><use href="#b2"/><text y="2">PTK2</text></g>
<g id="b-PPARG" transform="translate(130.8 598.3)"><use href="#b2"/><text y="2">PPARG</text></g>
<g id="b-PIK3R1" transform="translate(120.8 579.8)"><use href="#b2"/><text y="2">PIK3R1</text></g>
<g id="b-PDGFRB" transform="translate(112.8 560.5)"><use href="#b2"/><text y="2">PDGFRB</text></g>
<g id="b-PCNA" transform="translate(107.1 540.6)"><use href="#b2"/><text y="2">PCNA</text></g>
<g id="b-NR3C1" transform="translate(103.7 520.1)"><use href="#b2"/><text y="2">NR3C1</text></g>
<g id="b-NOS3" transform="translate(102.5 499.5)"><use href="#b2"/><text y="2">NOS3</text></g>
<g id="b-NCOA2" transform="translate(103.7 478.9)"><use href="#b2"/><text y="2">NCOA2</text></g>
<g id="b-NCOA1" transform="translate(107.1 458.4)"><use href="#b2"/><text y="2">NCOA1</text></g>
<g id="b-MYC" transform="translate(112.8 438.5)"><use href="#b2"/><text y="2">MYC</text></g>
<g id="b-MET" transform="translate(120.8 419.2)"><use href="#b2"/><text y="2">MET</text></g>
<g id="b-MDM2" transform="translate(130.8 400.8)"><use href="#b2"/><text y="2">MDM2</text></g>
<g id="b-MAPK3" transform="translate(142.8 383.4)"><use href="#b2"/><text y="2">MAPK3</text></g>
<g id="b-MAPK14" transform="translate(156.7 367.4)"><use href="#b2"/><text y="2">MAPK14</text></g>
<g id="b-MAPK1" transform="translate(172.3 352.7)"><use href="#b2"/><text y="2">MAPK1</text></g>
<g id="b-MAP2K1" transform="translate(189.5 339.7)"><use href="#b2"/><text y="2">MAP2K1</text></g>
<g id="b-KDR" transform="translate(208 328.5)"><use href="#b2"/><text y="2">KDR</text></g>
<g id="b-IL1B" transform="translate(227.7 319.1)"><use href="#b2"/><text y="2">IL1B</text></g>
<g id="b-IKBKB" transform="translate(248.3 311.7)"><use href="#b2"/><text y="2">IKBKB</text></g>
<g id="b-IGF2" transform="translate(269.6 306.3)"><use href="#b2"/><text y="2">IGF2</text></g>
<g id="b-IGF1R" transform="translate(291.4 303.1)"><use href="#b2"/><text y="2">IGF1R</text></g>
</g>
<text class="ttl" x="314" y="732">3–2</text>

<g id="edges-3-3" class="e3">
<path d="M266 768Q282 751 302 757M334 757Q354 750 372 768M250 776L385 776M318 761L194 816M318 761L156 875M318 761L143 946M318 761L156 1017M318 761L194 1077M318 761L251 1117M318 761L442 816M318 761L479 875M318 761L493 946M318 761L479 1017M250 776L156 875M250 776L251 1117M250 776L194 1077M250 776L156 1017M250 776L143 946M250 776L479 1017M385 776L156 875M385 776L194 816M385 776L143 946M385 776L156 1017M385 776L194 1077M385 776L251 1117M385 776L479 1017M385 776L318 1132M385 776L479 875M385 776L384 1117M194 816L479 875M194 816L493 946M194 816L156 1017M194 816L194 1077M194 816L156 875M458 818Q494 818 482 867M442 816L143 946M442 816L156 1017M442 816L194 1077M442 816L251 1117M442 816L318 1132M442 816L384 1117M442 816L493 946M442 816L479 1017M442 816L156 875M156 875L194 1077M156 875L251 1117M156 875L318 1132M479 875L156 1017M479 875L143 946M130 952Q112 985 138 1010M143 946L194 1077M143 946L251 1117M143 946L442 1077M143 946L384 1117M143 946L318 1132M156 1017L493 946M140 1024Q146 1066 178 1082M156 1017L251 1117M156 1017L384 1117M194 1077L442 1077M194 1077Q320 1097 442 1077M194 1077L479 1017M194 1077L251 1117M196 1085Q192 1125 235 1121M194 1077L384 1117M251 1117L479 1017M251 1117Q360 1110 442 1077M493 946L479 1017M486 954Q464 985 474 1009"/>
</g>

<g id="nodes-3-3" class="t3">
<g id="c-CDK4" transform="translate(317.7 761)"><use href="#b3"/><text y="1.8">CDK4</text></g>
<g id="c-EGFR" transform="translate(250 775.7)"><use href="#b3"/><text y="1.8">EGFR</text></g>
<g id="c-PIK3R1" transform="translate(385 775.7)"><use href="#b3"/><text y="1.8">PIK3R1</text></g>
<g id="c-CDK2" transform="translate(194.3 816)"><use href="#b3"/><text y="1.8">CDK2</text></g>
<g id="c-TP53" transform="translate(441.7 816)"><use href="#b3"/><text y="1.8">TP53</text></g>
<g id="c-ERBB2" transform="translate(156 875)"><use href="#b3"/><text y="1.8">ERBB2</text></g>
<g id="c-CCNA2" transform="translate(479.3 875)"><use href="#b3"/><text y="1.8">CCNA2</text></g>
<g id="c-AKT1" transform="translate(142.7 946)"><use href="#b3"/><text y="1.8">AKT1</text></g>
<g id="c-CCND1" transform="translate(492.7 946)"><use href="#b3"/><text y="1.8">CCND1</text></g>
<g id="c-CDKN1A" transform="translate(156 1016.7)"><use href="#b3"/><text y="1.8">CDKN1A</text></g>
<g id="c-ESR1" transform="translate(479.3 1016.7)"><use href="#b3"/><text y="1.8">ESR1</text></g>
<g id="c-HSP90AA1" transform="translate(194 1077.3)"><use href="#b3"/><text y="1.8">HSP90AA1</text></g>
<g id="c-CHUK" transform="translate(441.7 1077.3)"><use href="#b3"/><text y="1.8">CHUK</text></g>
<g id="c-SRC" transform="translate(250.7 1117.3)"><use href="#b3"/><text y="1.8">SRC</text></g>
<g id="c-BCL2L1" transform="translate(384.3 1117.3)"><use href="#b3"/><text y="1.8">BCL2L1</text></g>
<g id="c-MAPK1" transform="translate(317.7 1131.7)"><use href="#b3"/><text y="1.8">MAPK1</text></g>
</g>
<text class="ttl" x="313" y="1171">3–3</text>
</svg>
